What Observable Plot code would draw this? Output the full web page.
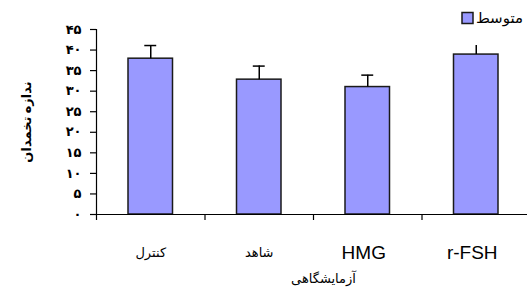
<!DOCTYPE html>
<html>
<head>
<meta charset="utf-8">
<script src="https://cdn.jsdelivr.net/npm/d3@7"></script>
<script src="https://cdn.jsdelivr.net/npm/@observablehq/plot@0.6"></script>
<style>
  html, body { margin: 0; padding: 0; background: #fff; }
  #wrap { position: relative; width: 527px; height: 299px; overflow: hidden; }
  #legend { position: absolute; left: 446px; top: 0; width: 81px; height: 45px; background: #fff; }
  #legend svg { display: block; }
</style>
</head>
<body>
<div id="wrap"></div>
<script>
const categories = ["کنترل", "شاهد", "HMG", "r-FSH"];
const means = [37.9, 32.8, 31.0, 38.9];
const errors = [3.2, 3.3, 2.9, 2.6];
const yTicks = [0, 5, 10, 15, 20, 25, 30, 35, 40, 45];
const yTickLabels = ["۰", "۵", "۱۰", "۱۵", "۲۰", "۲۵", "۳۰", "۳۵", "۴۰", "۴۵"];
const seriesName = "متوسط";
const yTitle = "ندازه تخمدان";
const xTitle = "آزمایشگاهی";

const data = categories.map((c, i) => ({i, category: c, mean: means[i], err: errors[i]}));
const isLatin = d => /[A-Za-z]/.test(d.category);
const persianFont = "'Times New Roman', 'DejaVu Sans', serif";
const latinFont = "Arial, 'Liberation Sans', sans-serif";

const chart = Plot.plot({
  width: 527,
  height: 299,
  marginLeft: 96,
  marginRight: -3,
  marginTop: 29,
  marginBottom: 85,
  style: {fontFamily: persianFont, color: "#000", background: "#fff", overflow: "hidden"},
  x: {domain: [0, categories.length], axis: null},
  y: {domain: [0, 45], axis: null},
  marks: [
    Plot.rectY(data, {x1: d => d.i, x2: d => d.i + 1, y: "mean", insetLeft: 32, insetRight: 32,
      fill: "#9999ff", stroke: "#1a1a1a", strokeWidth: 1.5}),
    Plot.ruleX(data, {x: d => d.i + 0.5, y1: "mean", y2: d => d.mean + d.err, stroke: "#000", strokeWidth: 1.5}),
    Plot.ruleY(data, {y: d => d.mean + d.err, x1: d => d.i + 0.5 - 0.055, x2: d => d.i + 0.5 + 0.055, stroke: "#000", strokeWidth: 1.5}),
    Plot.ruleX([0], {y1: 0, y2: 45, stroke: "#000", strokeWidth: 1.2}),
    Plot.ruleY([0], {stroke: "#000", strokeWidth: 1.2}),
    Plot.axisX({ticks: d3.range(0, categories.length + 1), tickFormat: () => "", tickSize: 6, stroke: "#000", strokeWidth: 1.2}),
    Plot.axisY({ticks: yTicks, tickFormat: d => yTickLabels[yTicks.indexOf(d)], tickSize: 6, tickPadding: 9,
      fontSize: 13, fontWeight: "bold", stroke: "#000", strokeWidth: 1.2, label: null}),
    Plot.text(data.filter(d => !isLatin(d)), {x: d => d.i + 0.5, y: 0, text: "category", dy: 38,
      fontSize: 13, fontFamily: persianFont, fill: "#000"}),
    Plot.text(data.filter(isLatin), {x: d => d.i + 0.5, y: 0, text: "category", dy: 38, dx: -4,
      fontSize: 19, fontFamily: latinFont, fill: "#000"}),
    Plot.text([xTitle], {frameAnchor: "bottom", dx: 10, dy: 68, fontSize: 13, fill: "#000"}),
    Plot.text([yTitle], {frameAnchor: "left", textAnchor: "middle", dx: -70, rotate: -90, fontSize: 13, fontWeight: "bold", fill: "#000"})
  ]
});

const wrap = document.getElementById("wrap");
wrap.appendChild(chart);
const legend = document.createElement("div");
legend.id = "legend";
legend.innerHTML = `<svg width="81" height="45">
  <rect x="16" y="12.5" width="11" height="11" fill="#9999ff" stroke="#1a1a1a" stroke-width="1.5"></rect>
  <text x="77" y="23" text-anchor="end" font-family="'Times New Roman', 'DejaVu Sans', serif" font-size="15" fill="#000">${seriesName}</text>
</svg>`;
wrap.appendChild(legend);
</script>
</body>
</html>
